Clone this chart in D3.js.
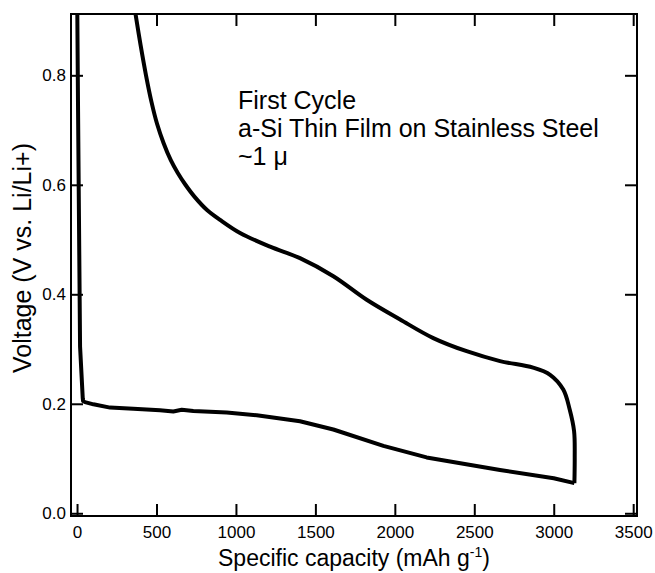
<!DOCTYPE html>
<html>
<head>
<meta charset="utf-8">
<script src="https://cdn.jsdelivr.net/npm/d3@7"></script>
<style>
  body { margin: 0; background: #fff; }
  text { font-family: "Liberation Sans", Arial, sans-serif; fill: #000; }
</style>
</head>
<body>
<div id="chart"></div>
<script>
// Datos (primer ciclo, a-Si sobre acero inoxidable)
const dischargeCap = [0, 6, 6, 19, 19, 36, 38, 50, 103, 208, 354, 522, 606, 659, 732, 942, 1131, 1403, 1613, 1928, 2200, 2662, 3000, 3130];
const dischargeV   = [0.98, 0.75, 0.75, 0.305, 0.305, 0.21, 0.205, 0.203, 0.199, 0.193, 0.191, 0.188, 0.186, 0.189, 0.187, 0.184, 0.179, 0.168, 0.153, 0.123, 0.102, 0.079, 0.064, 0.055];

const chargeCap = [3130, 3132, 3128, 3100, 3060, 2977, 2870, 2662, 2452, 2242, 2033, 1823, 1613, 1403, 1215, 1026, 900, 818, 740, 680, 635, 590, 545, 503, 468, 434, 400, 368, 350];
const chargeV   = [0.055, 0.10, 0.15, 0.19, 0.226, 0.253, 0.266, 0.278, 0.296, 0.320, 0.354, 0.390, 0.433, 0.466, 0.487, 0.512, 0.536, 0.554, 0.578, 0.601, 0.621, 0.645, 0.676, 0.712, 0.752, 0.80, 0.855, 0.912, 0.945];

const xTicks = [0, 500, 1000, 1500, 2000, 2500, 3000, 3500];
const yTicks = [0.0, 0.2, 0.4, 0.6, 0.8];
const annotation = ["First Cycle", "a-Si Thin Film on Stainless Steel", "~1 \u03bc"];

// Configuración del gráfico
const W = 655, H = 573;
const margin = { top: 14, right: 18, bottom: 57, left: 71 };
const width = W - margin.left - margin.right;
const height = H - margin.top - margin.bottom;

const svg = d3.select("#chart").append("svg")
    .attr("width", W).attr("height", H);

const g = svg.append("g")
    .attr("transform", `translate(${margin.left},${margin.top})`);

const x = d3.scaleLinear().domain([-38, 3524]).range([0, width]);
const y = d3.scaleLinear().domain([-0.005, 0.912]).range([height, 0]);

g.append("clipPath").attr("id", "clip")
  .append("rect").attr("width", width).attr("height", height);

// Ejes con marcas hacia dentro
const tickLen = 12;
g.append("g").attr("transform", `translate(0,${height})`)
  .call(d3.axisBottom(x).tickValues(xTicks).tickSizeInner(-tickLen).tickSizeOuter(0).tickPadding(10).tickFormat(d3.format("d")));
g.append("g")
  .call(d3.axisTop(x).tickValues(xTicks).tickSizeInner(-tickLen).tickSizeOuter(0).tickFormat(""));
g.append("g")
  .call(d3.axisLeft(y).tickValues(yTicks).tickSizeInner(-tickLen).tickSizeOuter(0).tickPadding(5).tickFormat(d3.format(".1f")));
g.append("g").attr("transform", `translate(${width},0)`)
  .call(d3.axisRight(y).tickValues(yTicks).tickSizeInner(-tickLen).tickSizeOuter(0).tickFormat(""));

g.selectAll(".domain").remove();
g.selectAll(".tick line").attr("stroke", "#000").attr("stroke-width", 2);
g.selectAll(".tick text").style("font-size", "17px").attr("fill", "#000");

// Marco
g.append("rect")
  .attr("width", width).attr("height", height)
  .attr("fill", "none").attr("stroke", "#000").attr("stroke-width", 2);

// Curvas
const lineD = d3.line().x((d, i) => x(dischargeCap[i])).y(d => y(d));
const lineC = d3.line().x((d, i) => x(chargeCap[i])).y(d => y(d)).curve(d3.curveCatmullRom.alpha(0.5));

const curves = g.append("g").attr("clip-path", "url(#clip)");
curves.append("path").attr("d", lineD(dischargeV))
  .attr("fill", "none").attr("stroke", "#000").attr("stroke-width", 4).attr("stroke-linejoin", "round");
curves.append("path").attr("d", lineC(chargeV))
  .attr("fill", "none").attr("stroke", "#000").attr("stroke-width", 4).attr("stroke-linejoin", "round");

// Anotación
g.append("g").selectAll("text")
  .data(annotation).enter().append("text")
  .attr("x", 167).attr("y", (d, i) => 95 + i * 28)
  .style("font-size", "25px")
  .text(d => d);

// Títulos
const xt = svg.append("text")
  .attr("x", margin.left + width / 2).attr("y", 566)
  .attr("text-anchor", "middle").style("font-size", "23px");
xt.append("tspan").text("Specific capacity (mAh g");
xt.append("tspan").attr("dy", -9).style("font-size", "14px").text("-1");
xt.append("tspan").attr("dy", 9).text(")");

svg.append("text")
  .attr("transform", `translate(31,258) rotate(-90)`)
  .attr("text-anchor", "middle").style("font-size", "25px")
  .text("Voltage (V vs. Li/Li+)");
</script>
</body>
</html>
